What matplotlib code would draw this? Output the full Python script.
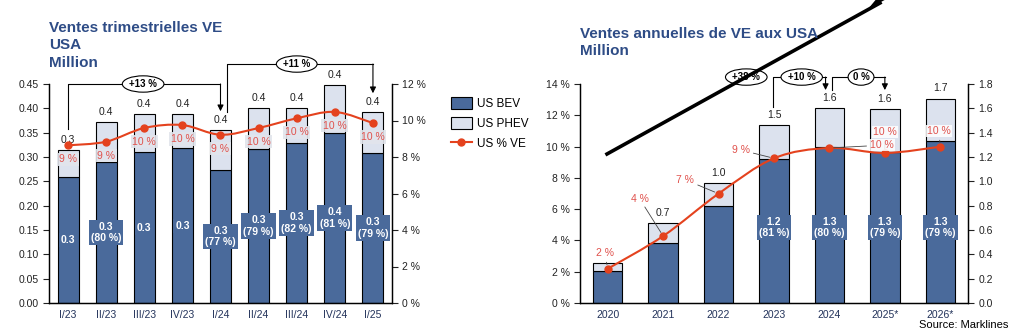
import matplotlib.pyplot as plt
from matplotlib.lines import Line2D
from matplotlib.patches import Patch
from matplotlib.path import Path
from matplotlib.patches import PathPatch

plt.rcParams["font.family"] = ["Liberation Sans", "DejaVu Sans"]

# --- quarterly data (left chart) ---
quarters = ["I/23", "II/23", "III/23", "IV/23", "I/24", "II/24", "III/24", "IV/24", "I/25"]
q_bev = [0.258, 0.290, 0.310, 0.318, 0.273, 0.316, 0.328, 0.350, 0.308]
q_total = [0.314, 0.371, 0.388, 0.388, 0.355, 0.400, 0.400, 0.447, 0.392]
q_share = [8.64, 8.84, 9.59, 9.75, 9.22, 9.59, 10.12, 10.47, 9.86]
q_total_lbl = ["0.3", "0.4", "0.4", "0.4", "0.4", "0.4", "0.4", "0.4", "0.4"]
q_bev_lbl = ["0.3", "0.3\n(80 %)", "0.3", "0.3", "0.3\n(77 %)", "0.3\n(79 %)",
             "0.3\n(82 %)", "0.4\n(81 %)", "0.3\n(79 %)"]
q_share_lbl = ["9 %", "9 %", "10 %", "10 %", "9 %", "10 %", "10 %", "10 %", "10 %"]

# --- annual data (right chart) ---
years = ["2020", "2021", "2022", "2023", "2024", "2025*", "2026*"]
y_bev = [0.263, 0.49, 0.80, 1.18, 1.28, 1.243, 1.33]
y_total = [0.326, 0.655, 0.983, 1.46, 1.60, 1.594, 1.68]
y_share = [2.19, 4.28, 6.99, 9.25, 9.91, 9.59, 9.99]
y_total_lbl = ["", "0.7", "1.0", "1.5", "1.6", "1.6", "1.7"]
y_bev_lbl = ["", "", "", "1.2\n(81 %)", "1.3\n(80 %)", "1.3\n(79 %)", "1.3\n(79 %)"]
y_share_lbl = ["2 %", "4 %", "7 %", "9 %", "10 %", "10 %", "10 %"]
# label offsets (points) for the annual share labels
y_share_off = [(-2, 11), (-17, 27), (-24, 10), (-24, 6), (38, 2), (0, 15), (-1, 11)]

BEV = "#4A6A9B"
PHEV = "#DCE2EE"
RED = "#E4421E"
RED_TXT = "#E0514C"
TITLE = "#2E4C86"
XLBL = "#22325A"

W, H = 1012, 331
fig = plt.figure(figsize=(W / 100, H / 100), dpi=100)


def px_axes(x0, x1, y_top, y_bot):
    return fig.add_axes([x0 / W, 1 - y_bot / H, (x1 - x0) / W, (y_bot - y_top) / H])


def smooth(ax, xs, ys, **kw):
    pts = list(zip(xs, ys))
    verts = [pts[0]]
    codes = [Path.MOVETO]
    n = len(pts)
    for i in range(n - 1):
        p0 = pts[max(i - 1, 0)]
        p1 = pts[i]
        p2 = pts[i + 1]
        p3 = pts[min(i + 2, n - 1)]
        c1 = (p1[0] + (p2[0] - p0[0]) / 6, p1[1] + (p2[1] - p0[1]) / 6)
        c2 = (p2[0] - (p3[0] - p1[0]) / 6, p2[1] - (p3[1] - p1[1]) / 6)
        verts += [c1, c2, p2]
        codes += [Path.CURVE4] * 3
    ax.add_patch(PathPatch(Path(verts, codes), fill=False, **kw))


def style(ax):
    ax.spines["top"].set_visible(False)
    ax.tick_params(direction="out", length=4, width=0.8, labelsize=7.5, colors="#222222")
    for s in ax.spines.values():
        s.set_linewidth(0.9)


def oval(ax, x, y, text):
    ax.text(x, y, text, ha="center", va="center", fontsize=7, fontweight="bold",
            zorder=6, clip_on=False,
            bbox=dict(boxstyle="ellipse,pad=0.08", fc="white", ec="black", lw=0.8))


def bracket(ax, x0, y0, x1, y1, ytop, text, xtext):
    ax.plot([x0, x0, x1], [y0, ytop, ytop], color="black", lw=0.8, clip_on=False, zorder=5)
    ax.annotate("", xy=(x1, y1), xytext=(x1, ytop), annotation_clip=False,
                arrowprops=dict(arrowstyle="-|>", color="black", lw=0.8,
                                mutation_scale=9, shrinkA=0, shrinkB=0), zorder=5)
    oval(ax, xtext, ytop, text)


# ================= left chart =================
ax1 = px_axes(49, 392, 84, 303)
ax1b = ax1.twinx()
xq = range(len(quarters))
ax1.bar(xq, q_bev, width=0.55, color=BEV, edgecolor="black", lw=0.8, zorder=2)
ax1.bar(xq, [t - b for t, b in zip(q_total, q_bev)], bottom=q_bev, width=0.55,
        color=PHEV, edgecolor="black", lw=0.8, zorder=2)
ax1.set_xlim(-0.5, len(quarters) - 0.5)
ax1.set_ylim(0, 0.45)
ax1.set_yticks([i * 0.05 for i in range(10)])
ax1.set_yticklabels([f"{i * 0.05:.2f}" for i in range(10)])
ax1.set_xticks(list(xq))
ax1.set_xticklabels(quarters)
ax1b.set_ylim(0, 12)
ax1b.set_yticks(range(0, 13, 2))
ax1b.set_yticklabels([f"{v} %" for v in range(0, 13, 2)])
style(ax1)
style(ax1b)
ax1.tick_params(axis="x", length=0, colors=XLBL, labelsize=7.5, pad=5)

for i in xq:
    ax1.annotate(q_total_lbl[i], (i, q_total[i]), xytext=(0, 4), textcoords="offset points",
                 ha="center", va="bottom", fontsize=7.5, color="#222222", zorder=4)
    ax1.text(i, q_bev[i] / 2, q_bev_lbl[i], ha="center", va="center", fontsize=7.5,
             color="white", fontweight="bold", linespacing=1.2, zorder=4,
             bbox=dict(boxstyle="square,pad=0.2", fc=BEV, ec="none"))
    ax1b.annotate(q_share_lbl[i], (i, q_share[i]), xytext=(0, -10), textcoords="offset points",
                  ha="center", va="center", fontsize=7.5, color=RED_TXT, zorder=6,
                  bbox=dict(boxstyle="square,pad=0.15", fc="#E2E5EC", ec="none", alpha=0.9))

smooth(ax1b, list(xq), q_share, color=RED, lw=1.5, zorder=5)
ax1b.plot(list(xq), q_share, "o", color=RED, ms=5, zorder=6)

bracket(ax1, 0, 0.357, 4, 0.394, 0.45, "+13 %", 1.97)
bracket(ax1, 4.16, 0.392, 8, 0.431, 0.491, "+11 %", 6.0)

fig.text(49 / W, 1 - 21 / H, "Ventes trimestrielles VE\nUSA\nMillion", ha="left", va="top",
         fontsize=11, fontweight="bold", color=TITLE, linespacing=1.3)

fig.legend(handles=[Patch(fc=BEV, ec="black", lw=0.8, label="US BEV"),
                    Patch(fc=PHEV, ec="black", lw=0.8, label="US PHEV"),
                    Line2D([], [], color=RED, lw=1.5, marker="o", ms=5, label="US % VE")],
           loc="upper left", bbox_to_anchor=(440 / W, 1 - 86 / H), frameon=False,
           fontsize=8.5, handlelength=1.8, handleheight=1.3, labelspacing=0.55,
           handletextpad=0.4)

# ================= right chart =================
ax2 = px_axes(580, 968, 84, 303)
ax2b = ax2.twinx()
ax2.set_zorder(ax2b.get_zorder() + 1)
ax2.patch.set_visible(False)
xy = range(len(years))
ax2b.bar(xy, y_bev, width=0.53, color=BEV, edgecolor="black", lw=0.8, zorder=2)
ax2b.bar(xy, [t - b for t, b in zip(y_total, y_bev)], bottom=y_bev, width=0.53,
         color=PHEV, edgecolor="black", lw=0.8, zorder=2)
ax2.set_xlim(-0.5, len(years) - 0.5)
ax2b.set_xlim(-0.5, len(years) - 0.5)
ax2.set_ylim(0, 14)
ax2.set_yticks(range(0, 15, 2))
ax2.set_yticklabels([f"{v} %" for v in range(0, 15, 2)])
ax2b.set_ylim(0, 1.8)
ax2b.set_yticks([i * 0.2 for i in range(10)])
ax2b.set_yticklabels([f"{i * 0.2:.1f}" for i in range(10)])
ax2.set_xticks(list(xy))
ax2.set_xticklabels(years)
style(ax2)
style(ax2b)
ax2.tick_params(axis="x", length=0, colors=XLBL, labelsize=7.5, pad=5)

for i in xy:
    if y_total_lbl[i]:
        ax2b.annotate(y_total_lbl[i], (i, y_total[i]), xytext=(0, 4), textcoords="offset points",
                      ha="center", va="bottom", fontsize=7.5, color="#222222", zorder=4)
    if y_bev_lbl[i]:
        ax2b.text(i, 0.62, y_bev_lbl[i], ha="center", va="center", fontsize=7.5,
                  color="white", fontweight="bold", linespacing=1.2, zorder=4,
                  bbox=dict(boxstyle="square,pad=0.2", fc=BEV, ec="none"))

smooth(ax2, list(xy), y_share, color=RED, lw=1.5, zorder=5)
ax2.plot(list(xy), y_share, "o", color=RED, ms=5, zorder=6)
for i in [5, 0, 1, 2, 3, 4, 6]:
    ax2.annotate(y_share_lbl[i], (i, y_share[i]), xytext=y_share_off[i],
                 textcoords="offset points", ha="center", va="center", fontsize=7.5,
                 color=RED_TXT, zorder=7,
                 bbox=dict(boxstyle="square,pad=0.1", fc="white", ec="none", alpha=0.85),
                 arrowprops=dict(arrowstyle="-", color="#444444", lw=0.6,
                                 shrinkA=2, shrinkB=3))

oval(ax2b, 2.5, 1.857, "+38 %")
bracket(ax2b, 2.99, 1.61, 3.93, 1.75, 1.857, "+10 %", 3.5)
bracket(ax2b, 4.05, 1.75, 5.0, 1.75, 1.857, "0 %", 4.57)

fig.text(580 / W, 1 - 27 / H, "Ventes annuelles de VE aux USA\nMillion", ha="left", va="top",
         fontsize=11, fontweight="bold", color=TITLE, linespacing=1.3)

# big trend arrow
fig.add_artist(plt.Line2D([607 / W, 880 / W], [1 - 154 / H, 1 - 3 / H], color="black",
                          lw=2.6, transform=fig.transFigure))
fig.patches.append(plt.Polygon([(878 / W, 1 - (-3) / H), (892 / W, 1 - (-4) / H),
                                (868 / W, 1 - 9 / H)], closed=True, fc="black",
                               transform=fig.transFigure, figure=fig))

fig.text(1008 / W, 1 - 325 / H, "Source: Marklines", ha="right", va="center", fontsize=8)

fig.savefig("out.png", dpi=100)
